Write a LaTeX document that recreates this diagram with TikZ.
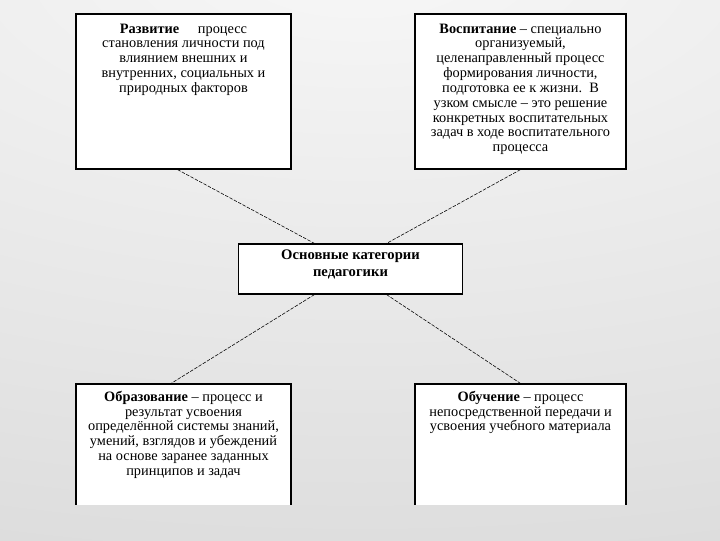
\documentclass[tikz,border=0pt]{standalone}
\usepackage{fontspec}
\setmainfont{Liberation Serif}
\usetikzlibrary{positioning}
\definecolor{bgtop}{RGB}{247,247,247}
\definecolor{bgedge}{RGB}{197,197,197}
\tikzset{
    %Define style for boxes
    catbox/.style={
           rectangle,
           draw=black,
           line width=0.8pt,
           fill=white},
    %Define style for box texts
    cattext/.style={
           align=center,
           inner sep=0pt,
           font=\fontsize{10.2}{10.55}\selectfont},
    % Define link style
    link/.style={
           thin,
           dash pattern=on 2.5pt off 1pt}
}

\begin{document}
\begin{tikzpicture}[x=0.025cm, y=-0.025cm]
    \useasboundingbox (0,0) rectangle (720,540);
    % background
    \begin{scope}
    \clip (0,0) rectangle (720,540);
    \shade[inner color=bgtop, outer color=bgedge] (-2200,-1200) rectangle (2920,1120);
    \end{scope}

    \node [catbox, minimum width=5.375cm, minimum height=3.875cm] (razv) at (183.5,91.5) {};
    \node [catbox, minimum width=5.275cm, minimum height=3.875cm] (vosp) at (520.5,91.5) {};
    \node [catbox, minimum width=5.6125cm, minimum height=1.25cm] (osn) at (350.5,269) {};
    \begin{scope}
    \clip (0,0) rectangle (720,504);
    \node [catbox, minimum width=5.375cm, minimum height=3.25cm] (obraz) at (183.5,449) {};
    \node [catbox, minimum width=5.275cm, minimum height=3.25cm] (obuch) at (520.5,449) {};
    \end{scope}

    \node [cattext, below=2.5mm of razv.north] (razvtxt)
        {\textbf{Развитие}\hspace{1.3em}процесс\\становления личности под\\влиянием внешних и\\внутренних, социальных и\\природных факторов};
    \node [cattext, below=2.5mm of vosp.north] (vosptxt)
        {\textbf{Воспитание} – специально\\организуемый,\\целенаправленный процесс\\формирования личности,\\подготовка ее к жизни.\ \ В\\узком смысле – это решение\\конкретных воспитательных\\задач в ходе воспитательного\\процесса};
    \node [cattext, font=\bfseries\fontsize{10.4}{12.2}\selectfont, below=1.5mm of osn.north] (osntxt)
        {Основные категории\\педагогики};
    \node [cattext, below=1.8mm of obraz.north] (obraztxt)
        {\textbf{Образование} – процесс и\\результат усвоения\\определённой системы знаний,\\умений, взглядов и убеждений\\на основе заранее заданных\\принципов и задач};
    \node [cattext, below=1.8mm of obuch.north] (obuchtxt)
        {\textbf{Обучение} – процесс\\непосредственной передачи и\\усвоения учебного материала};

    \coordinate (razvend) at ([xshift=-0.15cm]razv.south);
    \coordinate (vospend) at (vosp.south);
    \coordinate (obrazend) at ([xshift=-0.31cm]obraz.north);
    \coordinate (obuchend) at (obuch.north);
    \coordinate (osnNW) at ([xshift=-0.9cm]osn.north);
    \coordinate (osnNE) at ([xshift=0.9cm]osn.north);
    \coordinate (osnSW) at ([xshift=-0.9cm]osn.south);
    \coordinate (osnSE) at ([xshift=0.9cm]osn.south);

    \draw[link] (razvend) -- (osnNW);
    \draw[link] (vospend) -- (osnNE);
    \draw[link] (osnSW) -- (obrazend);
    \draw[link] (osnSE) -- (obuchend);
\end{tikzpicture}
\end{document}
